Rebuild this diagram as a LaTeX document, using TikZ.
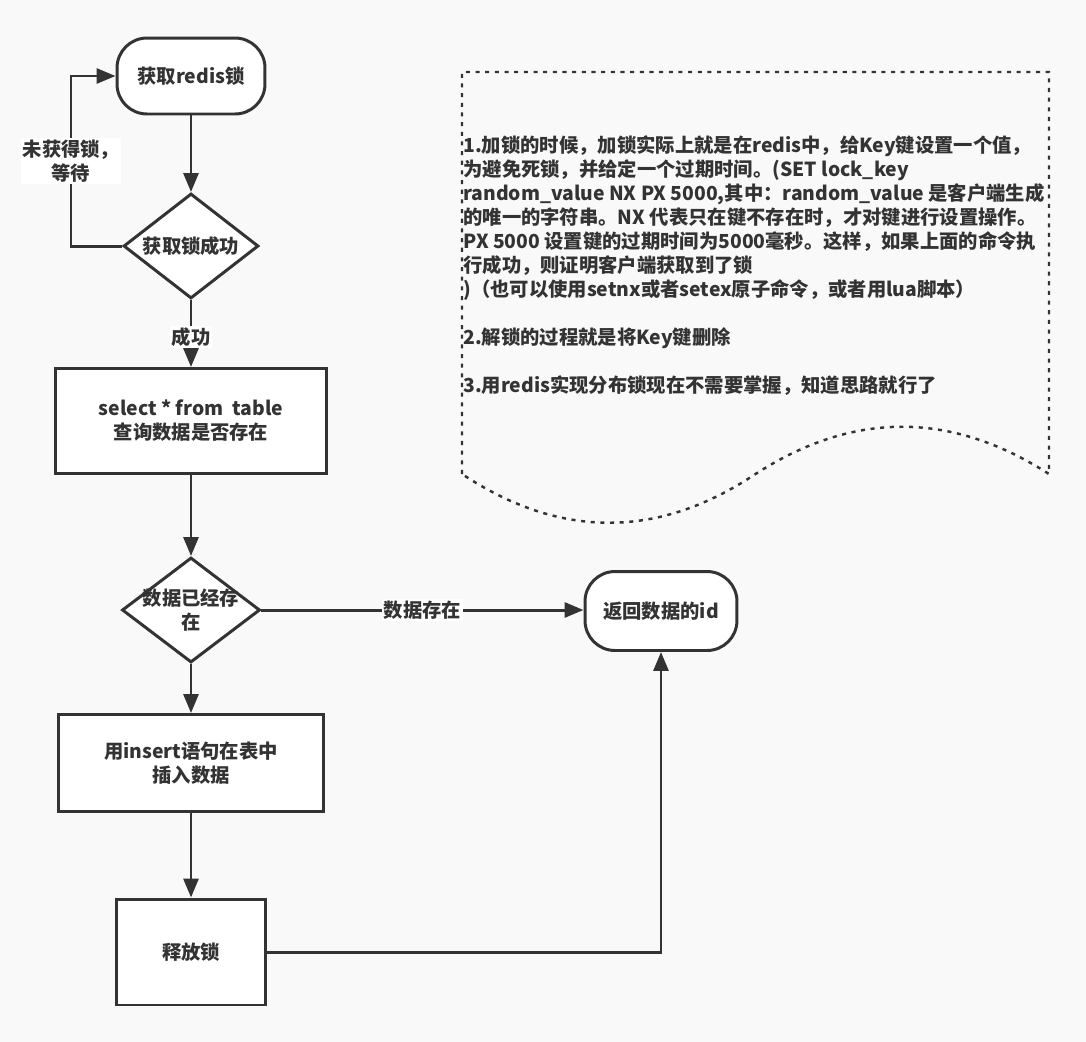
\documentclass[tikz,border=0pt]{standalone}
\usepackage{fontspec}
\setmainfont{Noto Sans CJK SC}
\usetikzlibrary{shapes.geometric, arrows.meta}

\definecolor{ink}{HTML}{333333}
\definecolor{canvas}{HTML}{F9F9F9}

\tikzset{
  txt/.style={text=ink, font=\bfseries\fontsize{11}{13.7}\selectfont, align=center},
  flow/.style={txt, draw=ink, line width=1.7pt, fill=white, inner sep=0pt},
  terminal/.style={flow, rounded corners=0.6cm},
  process/.style={flow},
  decision/.style={flow, diamond},
  link/.style={draw=ink, line width=1.7pt, -{Triangle[length=0.38cm, width=0.3cm]}},
  tag/.style={txt, fill=white, inner sep=1pt},
  note/.style={draw=ink, line width=1.4pt, dash pattern=on 2.3pt off 3.2pt}
}

\begin{document}
\begin{tikzpicture}[x=0.02cm, y=-0.02cm]
  % canvas
  \fill[canvas] (0,0) rectangle (1086,1042);

  % flow nodes
  \node[terminal, minimum width=2.96cm, minimum height=1.52cm] (start) at (191,76) {获取redis锁};
  \node[decision, minimum width=2.7cm, minimum height=2.1cm] (lockok) at (191,246) {};
  \node[txt] (lockoktext) at (lockok) {获取锁成功};
  \node[process, minimum width=5.44cm, minimum height=2.1cm] (query) at (191,421) {select * from\ \ table\\查询数据是否存在};
  \node[decision, minimum width=2.76cm, minimum height=2.1cm] (numexists) at (191,610) {};
  \node[txt] (numexiststext) at (numexists) {数据已经存\\在};
  \node[terminal, minimum width=3.04cm, minimum height=1.58cm] (retid) at (661,611) {返回数据的id};
  \node[process, minimum width=5.3cm, minimum height=1.94cm] (insert) at (191,763) {用insert语句在表中\\插入数据};
  \node[process, minimum width=3.0cm, minimum height=2.12cm] (unlock) at (191,952) {释放锁};

  % connectors
  \coordinate (waitturn) at (71,246);
  \draw[link] (start) -- (lockok);
  \draw[link] (lockok.west) -- (waitturn) |- node[tag, pos=0.25] {未获得锁，\\等待} (start.west);
  \draw[link] (lockok) -- node[tag, pos=0.55] {成功} (query);
  \draw[link] (query) -- (numexists);
  \draw[link] (numexists) -- node[tag] {数据存在} (numexists -| retid.west);
  \draw[link] (numexists) -- (insert);
  \draw[link] (insert) -- (unlock);
  \draw[link] (unlock.east) -| (retid.south);

  % note sheet
  \draw[note] (462,474) -- (462,72) -- (1049,72) -- (1049,474)
    .. controls (951,411) and (853,411) .. (755.5,474)
    .. controls (658,539) and (560,539) .. (462,474);
  \node[txt, align=left, anchor=north west, inner sep=0pt] (notetext) at (463,135) {%
    1.加锁的时候，加锁实际上就是在redis中，给Key键设置一个值，\\
    为避免死锁，并给定一个过期时间。(SET lock\_key\\
    random\_value NX PX 5000,其中：random\_value 是客户端生成\\
    的唯一的字符串。NX 代表只在键不存在时，才对键进行设置操作。\\
    PX 5000 设置键的过期时间为5000毫秒。这样，如果上面的命令执\\
    行成功，则证明客户端获取到了锁\\
    )（也可以使用setnx或者setex原子命令，或者用lua脚本）\\[13.7pt]
    2.解锁的过程就是将Key键删除\\[13.7pt]
    3.用redis实现分布锁现在不需要掌握，知道思路就行了};
\end{tikzpicture}
\end{document}
